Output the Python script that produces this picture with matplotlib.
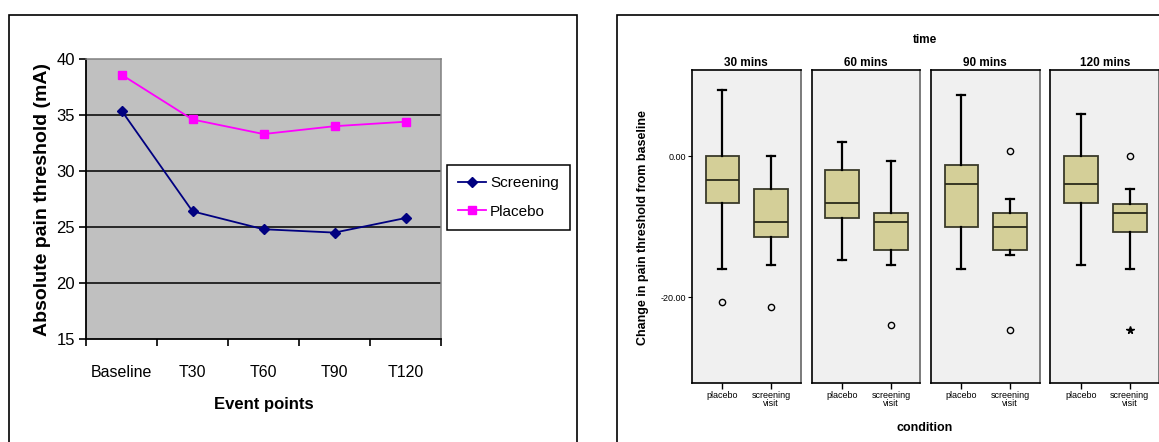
import numpy as np
import matplotlib
matplotlib.use("Agg")
import matplotlib.pyplot as plt
from matplotlib.patches import Rectangle

# ---------------- 데이터 ----------------
events = ["Baseline", "T30", "T60", "T90", "T120"]
screening = [35.4, 26.4, 24.8, 24.5, 25.8]
placebo = [38.6, 34.6, 33.3, 34.0, 34.4]

times = ["30 mins", "60 mins", "90 mins", "120 mins"]
conditions = ["placebo", "screening\nvisit"]
# (whislo, q1, med, q3, whishi) per time, per condition
placebo_box = [(-16.0, -6.6, -3.4, 0.0, 9.4),
               (-14.7, -8.7, -6.6, -2.0, 2.0),
               (-16.0, -10.0, -4.0, -1.3, 8.7),
               (-15.4, -6.6, -4.0, 0.0, 6.0)]
screen_box = [(-15.4, -11.4, -9.3, -4.7, 0.0),
              (-15.4, -13.3, -9.3, -8.0, -0.7),
              (-14.0, -13.3, -10.0, -8.0, -6.0),
              (-16.0, -10.7, -8.0, -6.7, -4.7)]
placebo_out = [[-20.7], [], [], []]
screen_out = [[-21.4], [-24.0], [0.7, -24.7], [0.0]]
screen_extreme = [[], [], [], [-24.7]]

# ---------------- 그림 ----------------
W, H = 1159, 442
fig = plt.figure(figsize=(W / 100, H / 100), dpi=100)
arial = ["Liberation Sans", "DejaVu Sans"]


def box(x0, y0, x1, y1):
    return [x0 / W, 1 - y1 / H, (x1 - x0) / W, (y1 - y0) / H]


# outer frames
fig.add_artist(Rectangle((9 / W, -0.1), (577 - 9) / W, 1.1 - 15 / H, transform=fig.transFigure,
                         fill=False, ec="black", lw=1.2))
fig.add_artist(Rectangle((617 / W, -0.1), (1200 - 617) / W, 1.1 - 15 / H, transform=fig.transFigure,
                         fill=False, ec="black", lw=1.2))

# ---------------- 왼쪽: line chart ----------------
ax = fig.add_axes(box(86, 59, 441, 339))
ax.set_facecolor("#C0C0C0")
x = np.arange(len(events)) + 0.5
ax.plot(x, screening, color="#000080", marker="D", ms=5, lw=1.3, label="Screening")
ax.plot(x, placebo, color="#FF00FF", marker="s", ms=6, lw=1.3, label="Placebo")
ax.set_xlim(0, 5)
ax.set_ylim(15, 40)
ax.set_yticks([15, 20, 25, 30, 35, 40])
for v in [20, 25, 30, 35]:
    ax.axhline(v, color="black", lw=1.1, zorder=0.5)
ax.set_xticks(np.arange(6))
ax.set_xticklabels([])
ax.set_xticks(x, minor=True)
ax.set_xticklabels(events, minor=True, fontsize=11.5, family=arial)
ax.tick_params(axis="x", which="minor", length=0, pad=19)
ax.tick_params(axis="x", which="major", length=5, width=1.2, direction="out")
ax.tick_params(axis="y", length=5, width=1.2, labelsize=12, pad=3)
for lab in ax.get_yticklabels():
    lab.set_family(arial)
for s in ["left", "bottom"]:
    ax.spines[s].set_linewidth(1.3)
for s in ["top", "right"]:
    ax.spines[s].set_color("#808080")
    ax.spines[s].set_linewidth(1.1)
ax.set_ylabel("Absolute pain threshold (mA)", fontsize=14, fontweight="bold", family=arial, labelpad=4)
ax.set_xlabel("Event points", fontsize=12, fontweight="bold", family=arial, labelpad=12)
leg = ax.legend(loc="center", bbox_to_anchor=(508.5 / W, 1 - 197.5 / H), bbox_transform=fig.transFigure,
                frameon=True, fancybox=False, edgecolor="black", framealpha=1,
                prop={"family": arial, "size": 11}, handlelength=1.8, handletextpad=0.3,
                borderpad=0.75, labelspacing=0.95, borderaxespad=0)
leg.get_frame().set_linewidth(1.1)

# ---------------- 오른쪽: box plots ----------------
panel_l = [692, 811.8, 931, 1050.4]
pw = 108.6
for i, t in enumerate(times):
    a = fig.add_axes(box(panel_l[i], 70, panel_l[i] + pw, 383))
    a.set_facecolor("#F0F0F0")
    stats = []
    for b, out in [(placebo_box[i], placebo_out[i]), (screen_box[i], screen_out[i])]:
        stats.append(dict(whislo=b[0], q1=b[1], med=b[2], q3=b[3], whishi=b[4], fliers=out))
    a.bxp(stats, positions=[1, 2], widths=0.69, capwidths=0.16, patch_artist=True,
          boxprops=dict(facecolor="#D4CF98", edgecolor="#3A3A2A", lw=1.3),
          medianprops=dict(color="#2A2A1A", lw=1.3),
          whiskerprops=dict(color="black", lw=1.6),
          capprops=dict(color="black", lw=1.6),
          flierprops=dict(marker="o", mfc="none", mec="black", ms=4.5, mew=1.0))
    if screen_extreme[i]:
        a.plot([2] * len(screen_extreme[i]), screen_extreme[i], ls="none", marker="*",
               color="black", ms=5.5)
    a.set_xlim(0.378, 2.6)
    a.set_ylim(-32.16, 12.24)
    a.set_xticks([1, 2])
    a.set_xticklabels(conditions, fontsize=6.5, family=arial, linespacing=0.85)
    a.tick_params(axis="x", length=4, width=1.0, pad=2)
    if i == 0:
        a.set_yticks([0, -20])
        a.set_yticklabels(["0.00", "-20.00"], fontsize=6.5, family=arial)
        a.tick_params(axis="y", length=3, width=0.8, pad=1)
    else:
        a.set_yticks([])
    for s in a.spines.values():
        s.set_linewidth(1.2)
    a.spines["right"].set_color("#666666")
    a.set_title(t, fontsize=8.5, fontweight="bold", family=arial, pad=3)

fig.text(925 / W, 1 - 40 / H, "time", ha="center", va="center", fontsize=8.5, fontweight="bold", family=arial)
fig.text(925 / W, 1 - 428 / H, "condition", ha="center", va="center", fontsize=9, fontweight="bold", family=arial)
fig.text(643 / W, 1 - 228 / H, "Change in pain threshold from baseline", rotation=90, ha="center", va="center",
         fontsize=9, fontweight="bold", family=arial)

fig.savefig("out.png", dpi=100)
